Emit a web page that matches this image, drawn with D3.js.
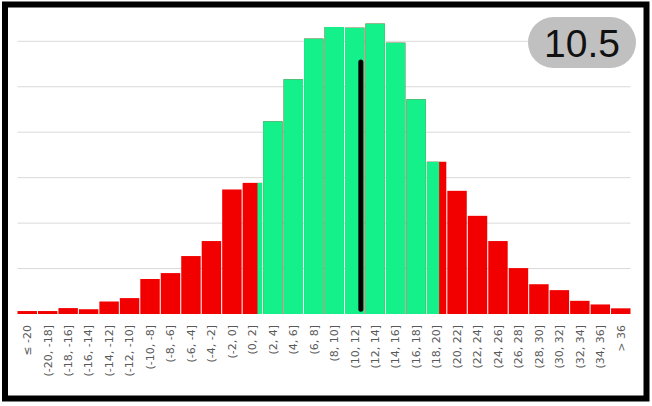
<!DOCTYPE html>
<html>
<head>
<meta charset="utf-8">
<script src="https://cdn.jsdelivr.net/npm/d3@7"></script>
<style>
  html, body { margin: 0; padding: 0; background: #fff; }
  svg { display: block; }
</style>
</head>
<body>
<div id="chart"></div>
<script>
// bins of the histogram
const categories = ["≤ -20", "(-20, -18]", "(-18, -16]", "(-16, -14]", "(-14, -12]", "(-12, -10]",
    "(-10, -8]", "(-8, -6]", "(-6, -4]", "(-4, -2]", "(-2, 0]", "(0, 2]", "(2, 4]", "(4, 6]",
    "(6, 8]", "(8, 10]", "(10, 12]", "(12, 14]", "(14, 16]", "(16, 18]", "(18, 20]", "(20, 22]",
    "(22, 24]", "(24, 26]", "(26, 28]", "(28, 30]", "(30, 32]", "(32, 34]", "(34, 36]", "> 36"];
// share of cases per bin (%)
const shares = [0.13, 0.13, 0.26, 0.21, 0.55, 0.70, 1.54, 1.80, 2.55, 3.21, 5.48, 5.77, 8.48, 10.33,
    12.12, 12.63, 12.60, 12.78, 11.94, 9.45, 6.70, 5.42, 4.32, 3.21, 2.02, 1.31, 1.05, 0.58, 0.42, 0.25];
const gridTicks = [2, 4, 6, 8, 10, 12];
const greenRange = [1.45, 19.2];   // highlighted interval on the value axis
const markerValue = 11.55;         // position of the black marker
const markerSpan = [0.21, 11.09];  // marker bottom / top in %
const badgeText = "10.5";
const firstBinStart = -22, binWidth = 2;

const W = 652, H = 406;
const margin = { top: 41.3, right: 21.5, bottom: 92, left: 17.5 };
const innerW = W - margin.left - margin.right;
const innerH = H - margin.top - margin.bottom;

const svg = d3.select("#chart").append("svg").attr("width", W).attr("height", H);
const g = svg.append("g").attr("transform", `translate(${margin.left},${margin.top})`);

const x = d3.scaleBand().domain(categories).range([0, innerW]).paddingInner(0.05).paddingOuter(0);
const y = d3.scaleLinear().domain([0, 12]).range([innerH, 0]);
// continuous value position built on the band scale
const xv = v => x(categories[0]) + (v - firstBinStart) / binWidth * x.step();

// gridlines
g.append("g").selectAll("line").data(gridTicks).join("line")
    .attr("x1", 0).attr("x2", innerW)
    .attr("y1", d => y(d)).attr("y2", d => y(d))
    .attr("stroke", "#d9d9d9").attr("stroke-width", 1);

const data = categories.map((c, i) => ({ c, v: shares[i] }));

// red bars
g.append("g").selectAll("rect").data(data).join("rect")
    .attr("x", d => x(d.c)).attr("width", x.bandwidth())
    .attr("y", d => y(d.v)).attr("height", d => y(0) - y(d.v))
    .attr("fill", "#f20000");

// green highlight, clipped to the interval
g.append("clipPath").attr("id", "green-clip").append("rect")
    .attr("x", xv(greenRange[0])).attr("width", xv(greenRange[1]) - xv(greenRange[0]))
    .attr("y", -50).attr("height", innerH + 60);
g.append("g").attr("clip-path", "url(#green-clip)").selectAll("rect").data(data).join("rect")
    .attr("x", d => x(d.c)).attr("width", x.bandwidth())
    .attr("y", d => y(d.v)).attr("height", d => y(0) - y(d.v))
    .attr("fill", "#14f18b");

// marker
g.append("line")
    .attr("x1", xv(markerValue)).attr("x2", xv(markerValue))
    .attr("y1", y(markerSpan[0])).attr("y2", y(markerSpan[1]))
    .attr("stroke", "#000").attr("stroke-width", 5).attr("stroke-linecap", "round");

// category labels
const xAxis = g.append("g").attr("transform", `translate(0,${innerH})`)
    .call(d3.axisBottom(x).tickSize(0).tickPadding(0));
xAxis.select(".domain").remove();
xAxis.selectAll("text")
    .attr("transform", "translate(0,11) rotate(-90)")
    .attr("text-anchor", "end").attr("x", 0).attr("y", 0).attr("dy", "0.35em")
    .attr("fill", "#595959").style("font-family", "'DejaVu Sans', sans-serif").style("font-size", "11px");

// badge
const badge = svg.append("g");
badge.append("rect").attr("x", 528).attr("y", 17).attr("width", 108).attr("height", 51)
    .attr("rx", 25.5).attr("fill", "#c0c0c0");
badge.append("text").attr("x", 582).attr("y", 56.5).attr("text-anchor", "middle")
    .attr("fill", "#111").style("font-family", "'Liberation Sans', Arial, sans-serif")
    .style("font-size", "39px").text(badgeText);

// frame
svg.append("rect").attr("x", 5).attr("y", 4.5).attr("width", 641.5).attr("height", 394)
    .attr("fill", "none").attr("stroke", "#000").attr("stroke-width", 6);
</script>
</body>
</html>
